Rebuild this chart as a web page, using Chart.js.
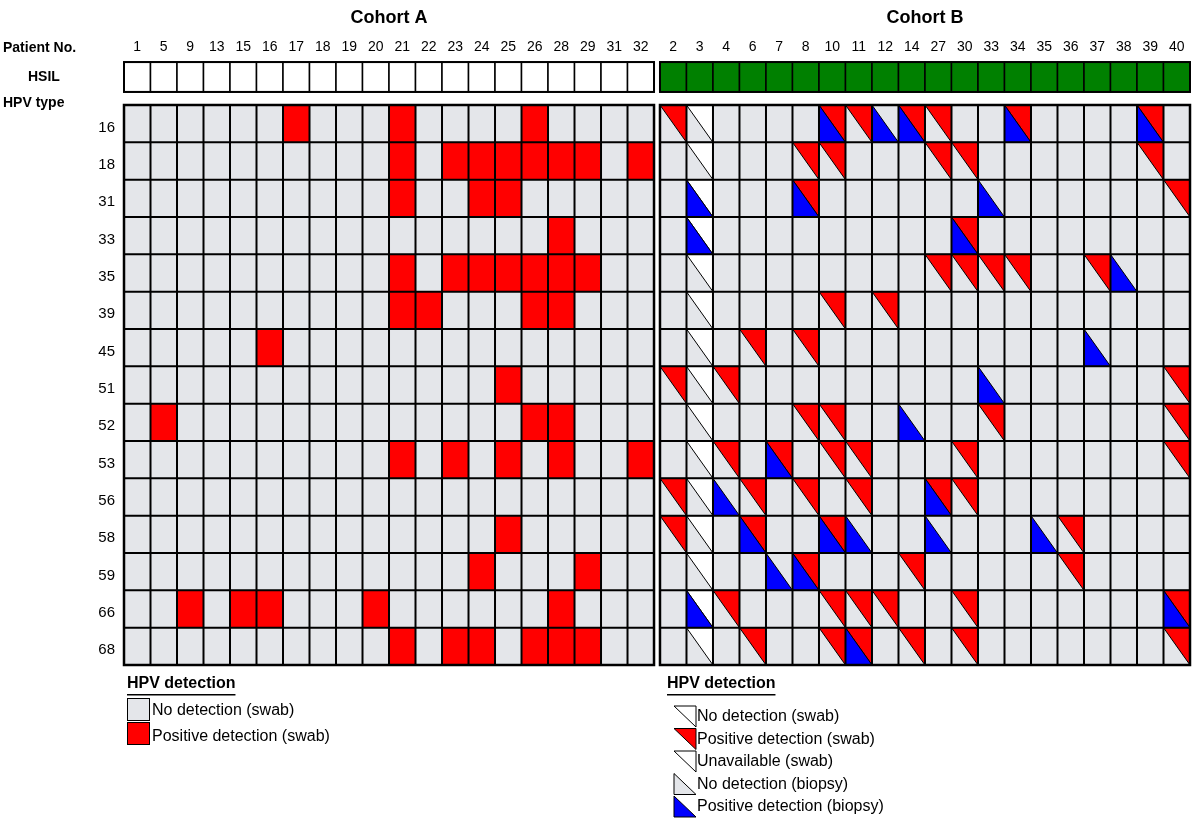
<!DOCTYPE html>
<html>
<head>
<meta charset="utf-8">
<script src="https://cdn.jsdelivr.net/npm/chart.js@4.4.0/dist/chart.umd.min.js"></script>
<style>
  body { margin: 0; background: #fff; }
</style>
</head>
<body>
<canvas id="chart" width="1200" height="826"></canvas>
<script>
// patients
const cohortA = [1, 5, 9, 13, 15, 16, 17, 18, 19, 20, 21, 22, 23, 24, 25, 26, 28, 29, 31, 32];
const cohortB = [2, 3, 4, 6, 7, 8, 10, 11, 12, 14, 27, 30, 33, 34, 35, 36, 37, 38, 39, 40];
const hpvTypes = [16, 18, 31, 33, 35, 39, 45, 51, 52, 53, 56, 58, 59, 66, 68];

// cohort A: patients positive (swab) per HPV type
const posA = [
  [17, 21, 26],
  [21, 23, 24, 25, 26, 28, 29, 32],
  [21, 24, 25],
  [28],
  [21, 23, 24, 25, 26, 28, 29],
  [21, 22, 26, 28],
  [16],
  [25],
  [5, 26, 28],
  [21, 23, 25, 28, 32],
  [],
  [25],
  [24, 29],
  [9, 15, 16, 20, 28],
  [21, 23, 24, 26, 28, 29]
];

// cohort B: swab positive / biopsy positive per HPV type
const swabB = [
  [2, 10, 11, 14, 27, 34, 39],
  [8, 10, 27, 30, 39],
  [8, 40],
  [30],
  [27, 30, 33, 34, 37],
  [10, 12],
  [6, 8],
  [2, 4, 40],
  [8, 10, 33, 40],
  [4, 7, 10, 11, 30, 40],
  [2, 6, 8, 11, 27, 30],
  [2, 6, 10, 36],
  [8, 14, 36],
  [4, 10, 11, 12, 30, 40],
  [6, 10, 11, 14, 30, 40]
];
const biopsyB = [
  [10, 12, 14, 34, 39],
  [],
  [3, 8, 33],
  [3, 30],
  [38],
  [],
  [37],
  [33],
  [14],
  [7],
  [4, 27],
  [6, 10, 11, 27, 35],
  [7, 8],
  [3, 40],
  [11]
];
const swabUnavailable = [3];
const hsilA = cohortA.map(() => false);
const hsilB = cohortB.map(() => true);

const GAP = 0.225;
const GREY = '#e4e6ea', RED = '#ff0000', BLUE = '#0000ff', GREEN = '#008000';

function cellX(cohort, i) { return cohort === 'A' ? i : 20 + GAP + i; }

const gridPlugin = {
  id: 'grid',
  afterDraw(chart) {
    const c = chart.ctx, xs = chart.scales.x, ys = chart.scales.y;
    const box = (x0, y0) => ({
      l: xs.getPixelForValue(x0), r: xs.getPixelForValue(x0 + 1),
      t: ys.getPixelForValue(y0), b: ys.getPixelForValue(y0 + 1)
    });
    const tri = (pts, fill) => {
      c.beginPath(); c.moveTo(pts[0][0], pts[0][1]);
      pts.slice(1).forEach(p => c.lineTo(p[0], p[1])); c.closePath();
      c.fillStyle = fill; c.fill();
      c.strokeStyle = '#000'; c.lineWidth = 1; c.stroke();
    };
    c.save();
    c.textBaseline = 'middle';
    c.fillStyle = '#000';
    // titles
    c.font = 'bold 18px "Liberation Sans", Arial';
    c.textAlign = 'center';
    c.fillText('Cohort A', xs.getPixelForValue(10), 18);
    c.fillText('Cohort B', xs.getPixelForValue(30 + GAP), 18);
    c.textAlign = 'left';
    c.font = 'bold 14px "Liberation Sans", Arial';
    c.fillText('Patient No.', 3, 48);
    c.fillText('HSIL', 28, 77);
    c.fillText('HPV type', 3, 103);
    // patient numbers and HSIL boxes
    c.font = '14px "Liberation Sans", Arial';
    c.textAlign = 'center';
    [['A', cohortA, hsilA], ['B', cohortB, hsilB]].forEach(([k, pts, hs]) => {
      pts.forEach((p, i) => {
        const b = box(cellX(k, i), -1.15);
        c.fillStyle = '#000';
        c.fillText(String(p), (b.l + b.r) / 2, 47);
        const hb = ys.getPixelForValue(-0.35);
        c.fillStyle = hs[i] ? GREEN : '#fff';
        c.fillRect(b.l, b.t, b.r - b.l, hb - b.t);
        c.strokeStyle = '#000'; c.lineWidth = 1.5;
        c.strokeRect(b.l, b.t, b.r - b.l, hb - b.t);
      });
      const l = xs.getPixelForValue(cellX(k, 0)), r = xs.getPixelForValue(cellX(k, 19) + 1);
      c.lineWidth = 2;
      c.strokeRect(l, ys.getPixelForValue(-1.15), r - l, ys.getPixelForValue(-0.35) - ys.getPixelForValue(-1.15));
    });
    // row labels
    c.font = '15px "Liberation Sans", Arial';
    c.textAlign = 'right';
    c.fillStyle = '#000';
    hpvTypes.forEach((h, r) => c.fillText(String(h), 115, ys.getPixelForValue(r + 0.6)));
    // cohort A cells
    hpvTypes.forEach((h, r) => {
      cohortA.forEach((p, i) => {
        const b = box(cellX('A', i), r);
        c.fillStyle = posA[r].includes(p) ? RED : GREY;
        c.fillRect(b.l, b.t, b.r - b.l, b.b - b.t);
      });
    });
    // cohort B cells
    hpvTypes.forEach((h, r) => {
      cohortB.forEach((p, i) => {
        const b = box(cellX('B', i), r);
        c.fillStyle = GREY;
        c.fillRect(b.l, b.t, b.r - b.l, b.b - b.t);
        if (swabUnavailable.includes(p)) tri([[b.l, b.t], [b.r, b.t], [b.r, b.b]], '#fff');
        if (swabB[r].includes(p)) tri([[b.l, b.t], [b.r, b.t], [b.r, b.b]], RED);
        if (biopsyB[r].includes(p)) tri([[b.l, b.t], [b.l, b.b], [b.r, b.b]], BLUE);
      });
    });
    // grid lines
    c.strokeStyle = '#000';
    ['A', 'B'].forEach(k => {
      const l = xs.getPixelForValue(cellX(k, 0)), r = xs.getPixelForValue(cellX(k, 19) + 1);
      const t = ys.getPixelForValue(0), bt = ys.getPixelForValue(15);
      c.lineWidth = 2;
      for (let i = 1; i < 20; i++) {
        const x = xs.getPixelForValue(cellX(k, i));
        c.beginPath(); c.moveTo(x, t); c.lineTo(x, bt); c.stroke();
      }
      for (let j = 1; j < 15; j++) {
        const y = ys.getPixelForValue(j);
        c.beginPath(); c.moveTo(l, y); c.lineTo(r, y); c.stroke();
      }
      c.lineWidth = 2.5;
      c.strokeRect(l, t, r - l, bt - t);
    });
    // legends
    c.textAlign = 'left';
    c.font = 'bold 16px "Liberation Sans", Arial';
    c.fillStyle = '#000';
    [127, 667].forEach(x => {
      c.fillText('HPV detection', x, 684);
      const w = c.measureText('HPV detection').width;
      c.fillRect(x, 694, w, 1.5);
    });
    c.font = '16px "Liberation Sans", Arial';
    c.fillStyle = GREY; c.fillRect(127, 698, 22, 22);
    c.strokeStyle = '#000'; c.lineWidth = 1; c.strokeRect(127.5, 698.5, 22, 22);
    c.fillStyle = RED; c.fillRect(127, 722, 22, 22); c.strokeRect(127.5, 722.5, 22, 22);
    c.fillStyle = '#000';
    c.fillText('No detection (swab)', 152, 711);
    c.fillText('Positive detection (swab)', 152, 737);
    const legB = [
      ['No detection (swab)', 'ur', '#fff'],
      ['Positive detection (swab)', 'ur', RED],
      ['Unavailable (swab)', 'ur', '#fff'],
      ['No detection (biopsy)', 'll', GREY],
      ['Positive detection (biopsy)', 'll', BLUE]
    ];
    legB.forEach(([txt, side, col], i) => {
      const y = 706 + i * 22.5, l = 674, r = 696, t = y, b = y + 21;
      if (side === 'ur') tri([[l, t], [r, t], [r, b]], col);
      else tri([[l, t], [l, b], [r, b]], col);
      c.fillStyle = '#000';
      c.fillText(txt, 697, y + 11);
    });
    c.restore();
  }
};

new Chart(document.getElementById('chart').getContext('2d'), {
  type: 'scatter',
  data: { datasets: [{ data: [], pointRadius: 0 }] },
  options: {
    responsive: false,
    animation: false,
    layout: { padding: { left: 124, right: 10, top: 105, bottom: 161 } },
    plugins: { legend: { display: false }, tooltip: { enabled: false } },
    scales: {
      x: { type: 'linear', display: false, min: 0, max: 40 + GAP },
      y: { type: 'linear', display: false, min: 0, max: 15, reverse: true }
    }
  },
  plugins: [gridPlugin]
});
</script>
</body>
</html>
